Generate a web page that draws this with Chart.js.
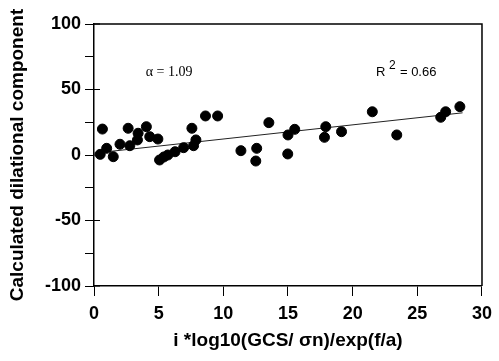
<!DOCTYPE html>
<html>
<head>
<meta charset="utf-8">
<script src="https://cdn.jsdelivr.net/npm/chart.js@4"></script>
<style>
  html, body { margin: 0; padding: 0; background: #fff; }
  #wrap { width: 499px; height: 361px; }
</style>
</head>
<body>
<div id="wrap"><canvas id="dilationChart" width="499" height="361"></canvas></div>
<script>
// data
var xValues = [0.48, 0.65, 0.98, 1.49, 2.01, 2.64, 2.77, 3.36, 3.41, 4.05, 4.31, 4.94, 5.07, 5.4, 5.71, 6.27, 6.93,
               7.57, 7.88, 7.70, 8.62, 9.56, 11.36, 12.58, 12.51, 13.52, 14.98, 15.0, 15.52, 17.92, 17.82, 19.14,
               21.52, 23.41, 26.81, 27.19, 28.29];
var yValues = [0.5, 19.8, 5.1, -1.3, 8.2, 20.4, 7.1, 11.5, 16.6, 21.6, 14.0, 12.2, -3.8, -1.5, 0.0, 2.5, 5.6,
               20.4, 11.5, 7.1, 29.8, 29.8, 3.3, 5.1, -4.6, 24.7, 0.8, 15.3, 19.6, 21.6, 13.5, 17.8,
               33.0, 15.3, 28.8, 33.0, 36.9];
// fitted line end points, as drawn
var fitX = [0, 28.5];
var fitY = [1.4, 32.2];
var xTicks = [0, 5, 10, 15, 20, 25, 30];
var yTicks = [-100, -50, 0, 50, 100];

var points = xValues.map(function (x, i) { return { x: x, y: yValues[i] }; });
var fitLine = fitX.map(function (x, i) { return { x: x, y: fitY[i] }; });

var FONT = "'Liberation Sans', Arial, sans-serif";

// frame on top/right, inner tick marks and the two notes
var framePlugin = {
    id: 'frame',
    afterDraw: function (chart) {
        var c = chart.ctx, a = chart.chartArea;
        var xs = chart.scales.x, ys = chart.scales.y;
        c.save();
        c.strokeStyle = '#000';
        c.lineWidth = 1.5;
        c.beginPath();
        c.moveTo(a.left, a.top); c.lineTo(a.right, a.top); c.lineTo(a.right, a.bottom);
        c.stroke();
        c.lineWidth = 1;
        c.beginPath();
        for (var v = -100; v <= 100; v += 50) {
            var py = ys.getPixelForValue(v);
            c.moveTo(a.left, py); c.lineTo(a.left + 6, py);
        }
        c.stroke();
        c.fillStyle = '#000';
        c.font = "14px 'Liberation Serif', 'Times New Roman', serif";
        c.textBaseline = 'middle';
        c.fillText('\u03b1 = 1.09', xs.getPixelForValue(4.0), ys.getPixelForValue(63));
        c.font = '13px ' + FONT;
        var rx = xs.getPixelForValue(21.8), ry = ys.getPixelForValue(63);
        c.fillText('R', rx, ry);
        c.font = '12px ' + FONT;
        c.fillText('2', rx + 13, ry - 7);
        c.font = '13px ' + FONT;
        c.fillText('= 0.66', rx + 24, ry);
        c.restore();
    }
};

var ctx = document.getElementById('dilationChart').getContext('2d');

var chart = new Chart(ctx, {
    type: 'scatter',
    data: {
        datasets: [{
            label: 'data',
            data: points,
            backgroundColor: '#000',
            borderColor: '#000',
            pointRadius: 5,
            pointHoverRadius: 5
        }, {
            type: 'line',
            label: 'fit',
            data: fitLine,
            borderColor: '#222',
            borderWidth: 1,
            pointRadius: 0,
            fill: false
        }]
    },
    options: {
        responsive: false,
        animation: false,
        layout: { padding: { top: 24, right: 14, left: 0, bottom: 0 } },
        plugins: { legend: { display: false }, tooltip: { enabled: false } },
        scales: {
            x: {
                type: 'linear',
                min: 0, max: 30,
                afterBuildTicks: function (s) { s.ticks = xTicks.map(function (v) { return { value: v }; }); },
                afterFit: function (s) { s.height = 75; },
                ticks: { color: '#000', font: { family: FONT, size: 18, weight: 'bold' }, padding: 7, maxRotation: 0 },
                grid: { drawOnChartArea: false, color: '#000', tickLength: 10, tickWidth: 1 },
                border: { color: '#000', width: 1.5 },
                title: {
                    display: true,
                    text: 'i *log10(GCS/ \u03c3n)/exp(f/a)',
                    color: '#000',
                    font: { family: FONT, size: 19, weight: 'bold' },
                    padding: { top: 2, bottom: 9 }
                }
            },
            y: {
                type: 'linear',
                min: -100, max: 100,
                afterFit: function (s) { s.width = 94; },
                ticks: {
                    stepSize: 25,
                    color: '#000',
                    font: { family: FONT, size: 18, weight: 'bold' },
                    padding: 4,
                    callback: function (v) { return yTicks.indexOf(v) >= 0 ? v : ''; }
                },
                grid: { drawOnChartArea: false, color: '#000', tickLength: 9, tickWidth: 1 },
                border: { color: '#000', width: 1.5 },
                title: {
                    display: true,
                    text: 'Calculated dilational component',
                    color: '#000',
                    font: { family: FONT, size: 19, weight: 'bold' },
                    padding: { top: 6, bottom: 8 }
                }
            }
        }
    },
    plugins: [framePlugin]
});
</script>
</body>
</html>
